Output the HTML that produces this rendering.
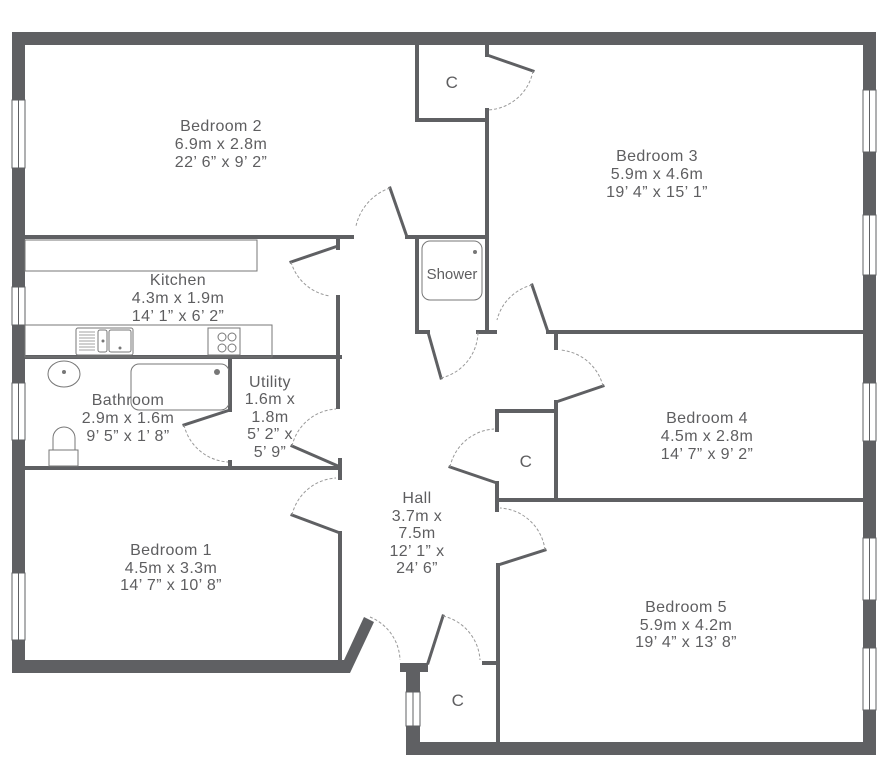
<!DOCTYPE html>
<html><head><meta charset="utf-8"><style>
html,body{margin:0;padding:0;background:#fff}
svg{display:block}
text{font-family:"Liberation Sans",sans-serif;font-size:16px;letter-spacing:0.4px;fill:#5e5e60;text-anchor:middle}
</style></head><body>
<svg width="888" height="768" viewBox="0 0 888 768" xmlns="http://www.w3.org/2000/svg">
<g fill="#5f6063">
<rect x="12" y="32" width="864" height="13"/>
<rect x="12" y="32" width="13" height="640"/>
<rect x="863" y="32" width="13" height="723"/>
<rect x="12" y="660" width="333" height="13"/>
<polygon points="338,673 350,673 374,622 364,617"/>
<rect x="406" y="742" width="470" height="13"/>
<rect x="406" y="663" width="14" height="92"/>
<rect x="400" y="663" width="28" height="9"/>
</g>
<g fill="#fff" stroke="#5f6063" stroke-width="1">
<rect x="12" y="100" width="13" height="68"/><line x1="18.5" y1="100" x2="18.5" y2="168"/>
<rect x="12" y="287" width="13" height="38"/><line x1="18.5" y1="287" x2="18.5" y2="325"/>
<rect x="12" y="383" width="13" height="57"/><line x1="18.5" y1="383" x2="18.5" y2="440"/>
<rect x="12" y="573" width="13" height="67"/><line x1="18.5" y1="573" x2="18.5" y2="640"/>
<rect x="863" y="90" width="13" height="62"/><line x1="869.5" y1="90" x2="869.5" y2="152"/>
<rect x="863" y="215" width="13" height="60"/><line x1="869.5" y1="215" x2="869.5" y2="275"/>
<rect x="863" y="383" width="13" height="58"/><line x1="869.5" y1="383" x2="869.5" y2="441"/>
<rect x="863" y="538" width="13" height="62"/><line x1="869.5" y1="538" x2="869.5" y2="600"/>
<rect x="863" y="648" width="13" height="62"/><line x1="869.5" y1="648" x2="869.5" y2="710"/>
<rect x="406" y="692" width="14" height="34"/><line x1="413" y1="692" x2="413" y2="726"/>
</g>
<g stroke="#5f6063" stroke-width="4" fill="none" stroke-linecap="square">
<line x1="25" y1="237" x2="352" y2="237"/>
<polyline points="417,45 417,120 487,120"/>
<line x1="487" y1="110" x2="487" y2="332"/>
<line x1="487" y1="45" x2="487" y2="55"/>
<line x1="487" y1="55" x2="533" y2="71" stroke-width="3"/>
<line x1="390" y1="188" x2="407" y2="237" stroke-width="3"/>
<line x1="407" y1="237" x2="487" y2="237"/>
<polyline points="417,237 417,332 428,332"/>
<line x1="428" y1="332" x2="441" y2="378" stroke-width="3"/>
<line x1="478" y1="332" x2="495" y2="332"/>
<line x1="532" y1="285" x2="548" y2="332" stroke-width="3"/>
<line x1="548" y1="332" x2="863" y2="332"/>
<line x1="556" y1="332" x2="556" y2="348"/>
<line x1="556" y1="402" x2="556" y2="500"/>
<line x1="556" y1="402" x2="603" y2="386" stroke-width="3"/>
<polyline points="497,430 497,411 556,411"/>
<line x1="497" y1="500" x2="863" y2="500"/>
<line x1="497" y1="483" x2="497" y2="510"/>
<line x1="450" y1="467" x2="497" y2="483" stroke-width="3"/>
<line x1="498" y1="565" x2="498" y2="742"/>
<line x1="498" y1="565" x2="545" y2="550" stroke-width="3"/>
<line x1="484" y1="663" x2="498" y2="663"/>
<line x1="428" y1="663" x2="443" y2="616" stroke-width="3"/>
<line x1="25" y1="357" x2="340" y2="357"/>
<line x1="338" y1="240" x2="338" y2="248"/>
<line x1="291" y1="262" x2="338" y2="246" stroke-width="3"/>
<line x1="338" y1="297" x2="338" y2="407"/>
<line x1="230" y1="357" x2="230" y2="410"/>
<line x1="230" y1="410" x2="184" y2="425" stroke-width="3"/>
<line x1="230" y1="462" x2="230" y2="468"/>
<line x1="25" y1="468" x2="340" y2="468"/>
<line x1="340" y1="460" x2="340" y2="478"/>
<line x1="292" y1="446" x2="338" y2="466" stroke-width="3"/>
<line x1="340" y1="533" x2="340" y2="662"/>
<line x1="292" y1="515" x2="340" y2="533" stroke-width="3"/>
</g>
<g stroke="#999" stroke-width="1" stroke-dasharray="3,2" fill="none">
<path d="M533,71 A48,48 0 0 1 487,110"/>
<path d="M390,188 A52,52 0 0 0 356,226"/>
<path d="M441,378 A48,48 0 0 0 478,332"/>
<path d="M532,285 A48,48 0 0 0 497,320"/>
<path d="M603,386 A48,48 0 0 0 560,350"/>
<path d="M450,467 A48,48 0 0 1 494,429"/>
<path d="M545,550 A48,48 0 0 0 500,508"/>
<path d="M443,616 A48,48 0 0 1 480,660"/>
<path d="M370,617 A48,48 0 0 1 400,660"/>
<path d="M291,262 A48,48 0 0 0 330,296"/>
<path d="M292,446 A48,48 0 0 1 336,409"/>
<path d="M184,425 A48,48 0 0 0 228,462"/>
<path d="M292,515 A48,48 0 0 1 336,478"/>
</g>
<g stroke="#777" stroke-width="1" fill="none">
<rect x="25" y="240" width="232" height="31"/>
<rect x="25" y="325" width="247" height="32"/>
<rect x="76" y="328" width="57" height="27" rx="2"/>
<rect x="98" y="330" width="9" height="22" rx="2"/>
<rect x="109" y="330" width="22" height="22" rx="2"/>
<rect x="208" y="328" width="32" height="27"/>
<circle cx="222" cy="337" r="4"/><circle cx="232" cy="337" r="4"/>
<circle cx="222" cy="348" r="4"/><circle cx="232" cy="348" r="4"/>
<ellipse cx="64" cy="374" rx="16" ry="13"/>
<rect x="131" y="364" width="98" height="46" rx="8"/>
<path d="M53,450 v-12 a11,11 0 0 1 22,0 v12"/>
<rect x="49" y="450" width="29" height="16"/>
<rect x="422" y="241" width="60" height="59" rx="8"/>
</g>
<g fill="#777">
<circle cx="64" cy="372" r="2"/><circle cx="217" cy="372" r="3"/>
<circle cx="475" cy="252" r="2"/><circle cx="103" cy="341" r="1.5"/><circle cx="120" cy="348" r="1.5"/>
</g>
<g stroke="#888" stroke-width="0.8">
<line x1="79" y1="332" x2="95" y2="332"/><line x1="79" y1="335" x2="95" y2="335"/><line x1="79" y1="338" x2="95" y2="338"/><line x1="79" y1="341" x2="95" y2="341"/><line x1="79" y1="344" x2="95" y2="344"/><line x1="79" y1="347" x2="95" y2="347"/><line x1="79" y1="350" x2="95" y2="350"/>
</g>
<text x="221" y="131">Bedroom 2</text><text x="221" y="149">6.9m x 2.8m</text><text x="221" y="167">22’ 6” x 9’ 2”</text>
<text x="178" y="285">Kitchen</text><text x="178" y="303">4.3m x 1.9m</text><text x="178" y="321">14’ 1” x 6’ 2”</text>
<text x="657" y="161">Bedroom 3</text><text x="657" y="179">5.9m x 4.6m</text><text x="657" y="197">19’ 4” x 15’ 1”</text>
<text x="452" y="279" style="font-size:15px;letter-spacing:0">Shower</text>
<text x="452" y="88" style="font-size:17px">C</text>
<text x="707" y="423">Bedroom 4</text><text x="707" y="441">4.5m x 2.8m</text><text x="707" y="459">14’ 7” x 9’ 2”</text>
<text x="526" y="467" style="font-size:17px">C</text>
<text x="128" y="405">Bathroom</text><text x="128" y="423">2.9m x 1.6m</text><text x="128" y="441">9’ 5” x 1’ 8”</text>
<text x="270" y="387">Utility</text><text x="270" y="404">1.6m x</text><text x="270" y="422">1.8m</text><text x="270" y="439">5’ 2” x</text><text x="270" y="457">5’ 9”</text>
<text x="417" y="503">Hall</text><text x="417" y="521">3.7m x</text><text x="417" y="538">7.5m</text><text x="417" y="556">12’ 1” x</text><text x="417" y="573">24’ 6”</text>
<text x="171" y="555">Bedroom 1</text><text x="171" y="573">4.5m x 3.3m</text><text x="171" y="590">14’ 7” x 10’ 8”</text>
<text x="686" y="612">Bedroom 5</text><text x="686" y="630">5.9m x 4.2m</text><text x="686" y="647">19’ 4” x 13’ 8”</text>
<text x="458" y="706" style="font-size:17px">C</text>
</svg>
</body></html>
